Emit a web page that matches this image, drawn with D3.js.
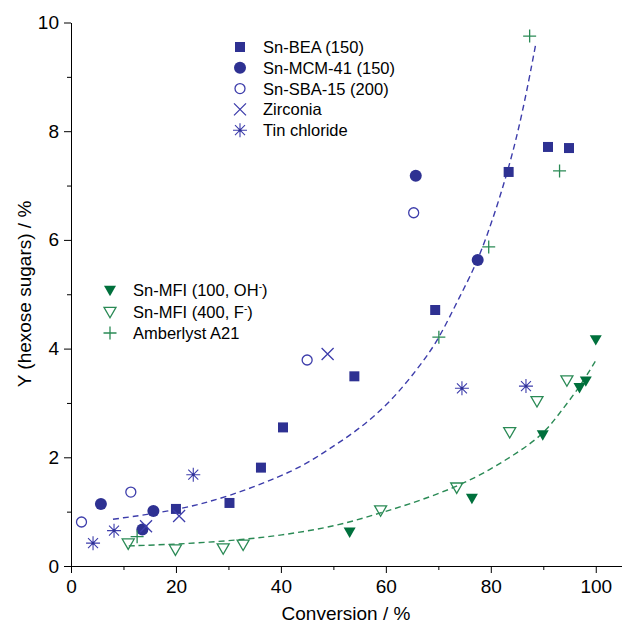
<!DOCTYPE html>
<html>
<head>
<meta charset="utf-8">
<script src="https://cdn.jsdelivr.net/npm/d3@7"></script>
<style>
  body { margin: 0; background: #fff; }
  svg text { font-family: "Liberation Sans", Arial, sans-serif; fill: #000; }
</style>
</head>
<body>
<div id="chart"></div>
<script>
var width = 622;
var height = 626;

// data: [conversion %, yield %]
var snBEA = [[20.0, 1.05], [30.2, 1.16], [36.2, 1.81], [40.4, 2.55], [54.0, 3.49],
             [69.4, 4.71], [83.4, 7.25], [90.9, 7.71], [94.9, 7.69]];
var snMCM = [[5.7, 1.14], [13.6, 0.67], [15.7, 1.01], [65.7, 7.18], [77.5, 5.63]];
var snSBA = [[2.0, 0.81], [11.4, 1.36], [45.0, 3.79], [65.3, 6.50]];
var zirconia = [[14.3, 0.73], [20.6, 0.92], [48.9, 3.90]];
var tinChloride = [[4.2, 0.42], [8.2, 0.65], [23.3, 1.68], [74.5, 3.27], [86.7, 3.31]];
var mfiOH = [[53.1, 0.63], [76.4, 1.25], [89.9, 2.42], [96.9, 3.29], [98.1, 3.41], [100, 4.17]];
var mfiF = [[10.9, 0.42], [19.9, 0.31], [29.0, 0.33], [32.8, 0.40], [59.0, 1.03],
            [73.5, 1.45], [83.6, 2.47], [88.8, 3.04], [94.5, 3.42]];
var amberlyst = [[12.6, 0.54], [70.1, 4.21], [79.6, 5.87], [87.4, 9.75], [93.1, 7.27]];

// dashed guide curves
var fitBlue = [[8, 0.86], [20, 1.02], [30, 1.27], [43, 1.76], [49, 2.14], [55, 2.52],
               [61, 3.03], [66, 3.62], [70, 4.15], [74, 4.95], [78, 5.68], [83, 7.15],
               [86, 8.3], [88.6, 9.62]];
var fitGreen = [[11, 0.37], [20, 0.40], [30, 0.46], [40, 0.56], [51, 0.74], [59, 0.98],
                [64, 1.12], [73.5, 1.45], [80, 1.78], [85, 2.08], [90, 2.42], [93, 2.8],
                [97, 3.3], [100, 3.78]];

var xMajor = [0, 20, 40, 60, 80, 100];
var xMinor = [10, 30, 50, 70, 90];
var yMajor = [0, 2, 4, 6, 8, 10];
var yMinor = [1, 3, 5, 7, 9];

var blue = "#2e3192";
var blueLine = "#3d3dab";
var green = "#00703c";
var greenLine = "#2a8a55";

var svg = d3.select("#chart")
    .append("svg")
    .attr("width", width)
    .attr("height", height);

var xScale = d3.scaleLinear().domain([0, 105]).range([71, 622]);
var yScale = d3.scaleLinear().domain([0, 10]).range([566, 22.5]);

// axes
svg.append("g")
    .attr("transform", "translate(0,566)")
    .call(d3.axisBottom(xScale).tickValues(xMinor).tickSize(4).tickFormat("").tickSizeOuter(0));
var xAxis = svg.append("g")
    .attr("transform", "translate(0,566)")
    .call(d3.axisBottom(xScale).tickValues(xMajor).tickSize(7).tickPadding(6.5).tickSizeOuter(0));

svg.append("g")
    .attr("transform", "translate(71,0)")
    .call(d3.axisLeft(yScale).tickValues(yMinor).tickSize(4).tickFormat("").tickSizeOuter(0));
var yAxis = svg.append("g")
    .attr("transform", "translate(71,0)")
    .call(d3.axisLeft(yScale).tickValues(yMajor).tickSize(7).tickPadding(5).tickSizeOuter(0));

svg.selectAll(".domain, .tick line").attr("stroke", "#000").attr("stroke-width", 1);
svg.selectAll(".tick text")
    .attr("font-size", 19)
    .attr("font-family", "Liberation Sans, Arial, sans-serif");

svg.append("text")
    .attr("x", 346)
    .attr("y", 620)
    .attr("text-anchor", "middle")
    .attr("font-size", 19)
    .text("Conversion / %");

svg.append("text")
    .attr("transform", "translate(31,294) rotate(-90)")
    .attr("text-anchor", "middle")
    .attr("font-size", 19)
    .text("Y (hexose sugars) / %");

// dashed curves
var line = d3.line()
    .x(function(d) { return xScale(d[0]); })
    .y(function(d) { return yScale(d[1]); })
    .curve(d3.curveBasis);

svg.append("path")
    .attr("d", line(fitBlue))
    .attr("fill", "none")
    .attr("stroke", blueLine)
    .attr("stroke-width", 1.4)
    .attr("stroke-dasharray", "6,4");

svg.append("path")
    .attr("d", line(fitGreen))
    .attr("fill", "none")
    .attr("stroke", greenLine)
    .attr("stroke-width", 1.4)
    .attr("stroke-dasharray", "6,4");

// marker shapes
var downTri = "M-6,-4.2L6,-4.2L0,6.2Z";
var plusPath = "M-6.5,0H6.5M0,-6.5V6.5";
var timesPath = "M-6,-6L6,6M-6,6L6,-6";
var starPath = "M0,-7V7M-7,0H7M-5,-5L5,5M-5,5L5,-5";

function drawMarker(g, kind) {
    if (kind == "square") {
        g.append("path").attr("d", d3.symbol().type(d3.symbolSquare).size(100)())
            .attr("fill", blue);
    } else if (kind == "circle") {
        g.append("circle").attr("r", 6).attr("fill", blue);
    } else if (kind == "ocircle") {
        g.append("circle").attr("r", 5).attr("fill", "none")
            .attr("stroke", blueLine).attr("stroke-width", 1.3);
    } else if (kind == "times") {
        g.append("path").attr("d", timesPath).attr("fill", "none")
            .attr("stroke", blueLine).attr("stroke-width", 1.3);
    } else if (kind == "star") {
        g.append("path").attr("d", starPath).attr("fill", "none")
            .attr("stroke", blueLine).attr("stroke-width", 1.1);
        g.append("circle").attr("r", 1.3).attr("fill", blue);
    } else if (kind == "tri") {
        g.append("path").attr("d", downTri).attr("fill", green);
    } else if (kind == "otri") {
        g.append("path").attr("d", downTri).attr("fill", "none")
            .attr("stroke", greenLine).attr("stroke-width", 1.3);
    } else if (kind == "plus") {
        g.append("path").attr("d", plusPath).attr("fill", "none")
            .attr("stroke", greenLine).attr("stroke-width", 1.3);
    }
}

var series = [
    { name: "Sn-BEA (150)", kind: "square", data: snBEA },
    { name: "Sn-MCM-41 (150)", kind: "circle", data: snMCM },
    { name: "Sn-SBA-15 (200)", kind: "ocircle", data: snSBA },
    { name: "Zirconia", kind: "times", data: zirconia },
    { name: "Tin chloride", kind: "star", data: tinChloride },
    { name: "Sn-MFI (100, OH", sup: "-", tail: ")", kind: "tri", data: mfiOH },
    { name: "Sn-MFI (400, F", sup: "-", tail: ")", kind: "otri", data: mfiF },
    { name: "Amberlyst A21", kind: "plus", data: amberlyst }
];

series.forEach(function(s) {
    svg.selectAll(null)
        .data(s.data)
        .enter()
        .append("g")
        .attr("transform", function(d) {
            return "translate(" + xScale(d[0]) + "," + yScale(d[1]) + ")";
        })
        .each(function() { drawMarker(d3.select(this), s.kind); });
});

// legends
function legendRow(s, mx, tx, y) {
    var g = svg.append("g").attr("transform", "translate(" + mx + "," + y + ")");
    drawMarker(g, s.kind);
    var t = svg.append("text")
        .attr("x", tx)
        .attr("y", y + 6)
        .attr("font-size", 16.5)
        .text(s.name);
    if (s.sup) {
        t.append("tspan").attr("dy", -6).attr("font-size", 10).text(s.sup);
        t.append("tspan").attr("dy", 6).text(s.tail);
    }
}

series.slice(0, 5).forEach(function(s, i) {
    legendRow(s, 240, 263, 47 + i * 20.8);
});
series.slice(5).forEach(function(s, i) {
    legendRow(s, 110, 133, 290 + i * 21.5);
});
</script>
</body>
</html>
